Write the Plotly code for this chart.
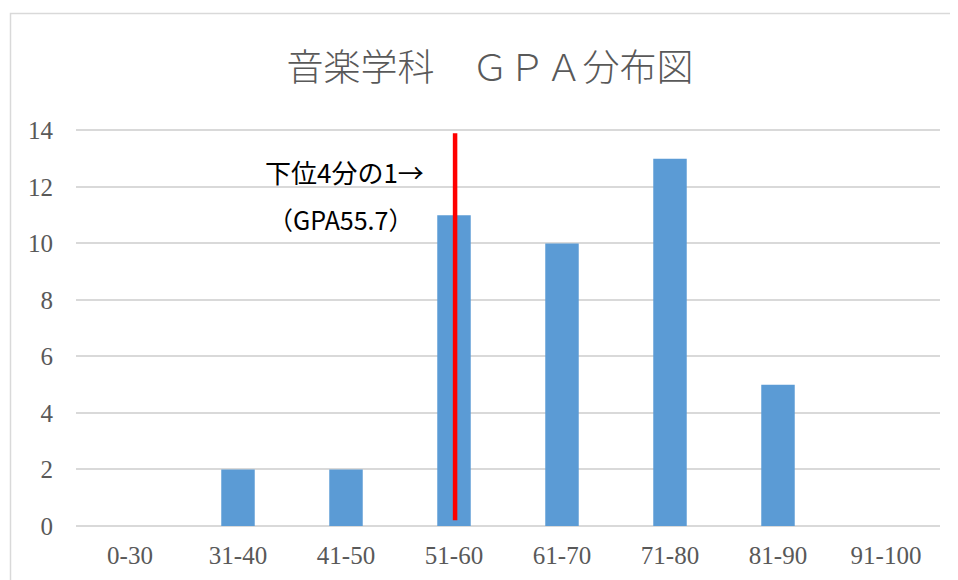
import plotly.graph_objects as go

categories = ["0-30", "31-40", "41-50", "51-60", "61-70", "71-80", "81-90", "91-100"]
counts = [0, 2, 2, 11, 10, 13, 5, 0]
y_ticks = [0, 2, 4, 6, 8, 10, 12, 14]
title_text = "音楽学科　ＧＰＡ分布図"
note_line1 = "下位4分の1→"
note_line2 = "（GPA55.7）"
quartile_category = "51-60"

OFF = 8  # page body margin in the browser
W, H = 958 - OFF, 580 - OFF
# plot area in screen pixels
SX0, SX1, SY0, SY1 = 76, 940, 129, 526
L, R = SX0 - OFF, W - (SX1 - OFF)
T, B = SY0 - OFF, H - (SY1 - OFF)
pw, ph = W - L - R, H - T - B

def px_x(p):
    return (p - OFF - L) / pw

def px_y(p):
    return (H - B - (p - OFF)) / ph

fig = go.Figure()
fig.add_trace(go.Bar(x=categories, y=counts, marker=dict(color="#5b9bd5", line=dict(width=0)),
                     hoverinfo="x+y"))

# frame around the chart
fig.add_shape(type="rect", xref="paper", yref="paper",
              x0=px_x(10.5), x1=px_x(1000), y0=px_y(13.5), y1=px_y(700),
              line=dict(color="#d9d9d9", width=1.5), fillcolor="rgba(0,0,0,0)", layer="below")

# red quartile line
qi = categories.index(quartile_category)
fig.add_shape(type="line", xref="x", yref="y", x0=qi + 0.01, x1=qi + 0.01, y0=0.2, y1=13.9,
              line=dict(color="#ff0000", width=4.5))

fig.add_annotation(x=px_x(344), y=px_y(171), xref="paper", yref="paper", text=note_line1,
                   xanchor="center", yanchor="middle",
                   showarrow=False, font=dict(family="Noto Sans CJK JP", size=26, color="#000000"))
fig.add_annotation(x=px_x(340), y=px_y(219), xref="paper", yref="paper", text=note_line2,
                   xanchor="center", yanchor="middle",
                   showarrow=False, font=dict(family="Noto Sans CJK JP", size=25, color="#000000"))

fig.update_layout(
    width=W, height=H,
    margin=dict(l=L, r=R, t=T, b=B),
    paper_bgcolor="white", plot_bgcolor="white",
    title=dict(text=title_text, x=(490 - OFF) / W, xanchor="center", y=1 - (68 - OFF) / H,
               yanchor="middle",
               font=dict(family="Noto Sans CJK JP", size=37, color="#595959", weight=300)),
    bargap=0.69,
    showlegend=False,
    xaxis=dict(type="category", showgrid=False, showline=False, ticks="",
               ticklabelstandoff=12,
               tickfont=dict(family="Liberation Serif", size=25, color="#595959")),
    yaxis=dict(range=[0, 14.05], tickvals=y_ticks, showgrid=True, gridcolor="#d9d9d9", gridwidth=1.5,
               zeroline=True, zerolinecolor="#d9d9d9", zerolinewidth=1.5, showline=False, ticks="",
               ticklabelstandoff=22,
               tickfont=dict(family="Liberation Serif", size=25, color="#595959")),
)

fig.write_html("out.html")
